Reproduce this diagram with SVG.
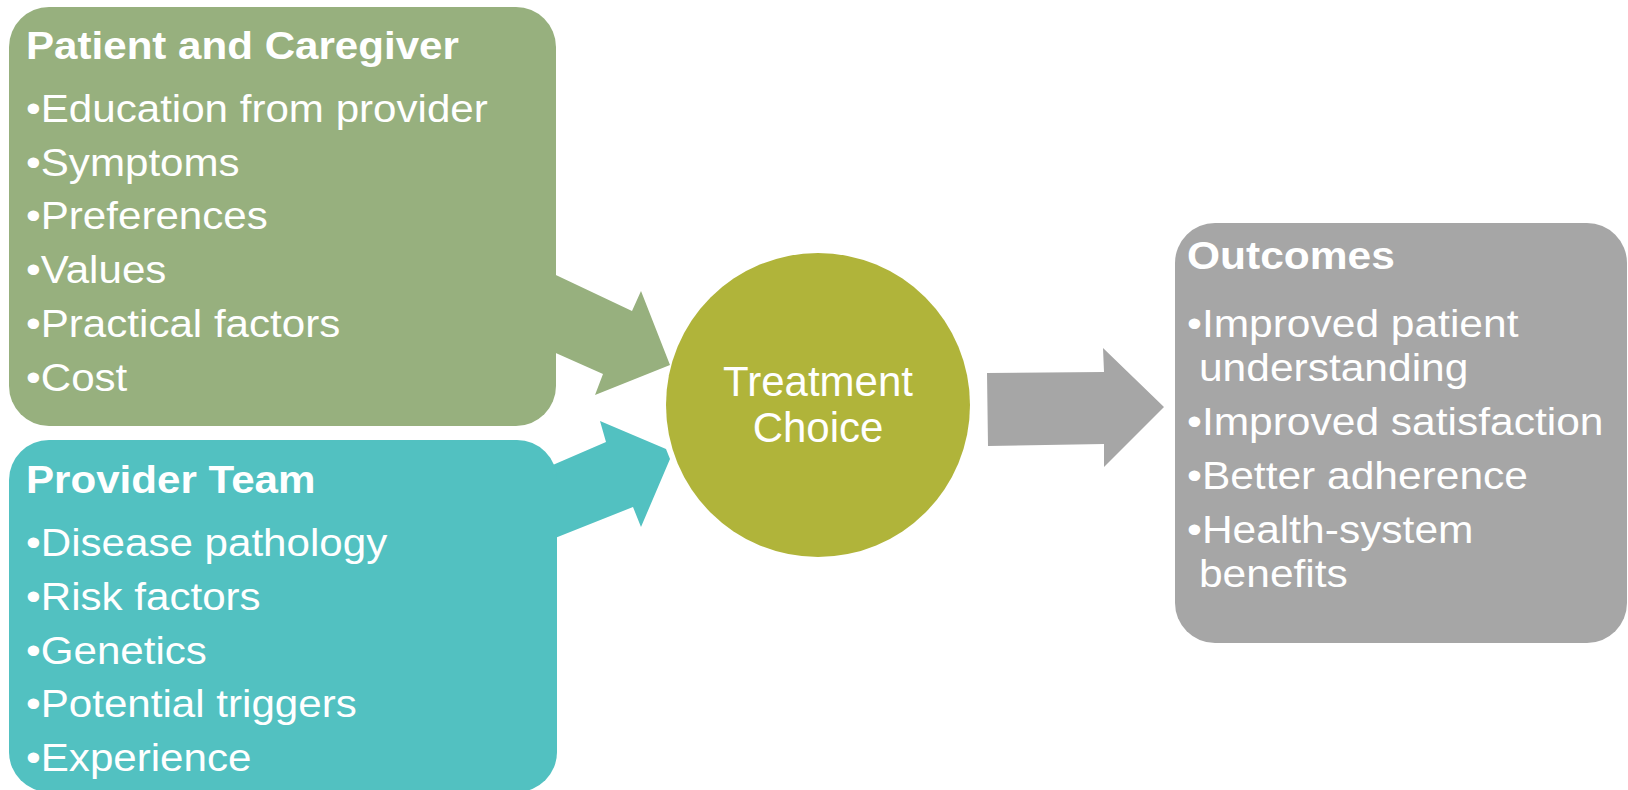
<svg xmlns="http://www.w3.org/2000/svg" width="1628" height="790" viewBox="0 0 1628 790">
<style>
.t{font-family:"Liberation Sans",Arial,sans-serif;fill:#FFFFFF;font-size:39px}
.h{font-weight:bold}
.c{font-family:"Liberation Sans",Arial,sans-serif;fill:#FFFFFF;font-size:42px;text-anchor:middle}
</style>
<rect width="1628" height="790" fill="#FFFFFF"/>
<g id="connectors">
<polygon points="540,267.5 632,311 641,291 670,365 595,395 603,374 540,346" fill="#97B07E"/>
<polygon points="540,470.5 606,442 600,421 666,449 670,459 641,527 633,507 540,544" fill="#52C1C1"/>
<polygon points="987,373 1104,372 1103,348 1164,407 1104,467 1104,444 988,446" fill="#A6A6A6"/>
</g>
<g id="patient">
<rect x="9" y="7" width="547" height="419" rx="40" ry="40" fill="#97B07E"/>
<g transform="translate(26 0) scale(1.08 1)">
<text class="t h" x="0" y="59">Patient and Caregiver</text>
<text class="t" x="0" y="122">•Education from provider</text>
<text class="t" x="0" y="176">•Symptoms</text>
<text class="t" x="0" y="229">•Preferences</text>
<text class="t" x="0" y="283">•Values</text>
<text class="t" x="0" y="337">•Practical factors</text>
<text class="t" x="0" y="391">•Cost</text>
</g>
</g>
<g id="provider">
<rect x="9" y="440" width="548" height="352" rx="40" ry="40" fill="#52C1C1"/>
<g transform="translate(26 0) scale(1.08 1)">
<text class="t h" x="0" y="493">Provider Team</text>
<text class="t" x="0" y="556">•Disease pathology</text>
<text class="t" x="0" y="610">•Risk factors</text>
<text class="t" x="0" y="664">•Genetics</text>
<text class="t" x="0" y="717">•Potential triggers</text>
<text class="t" x="0" y="771">•Experience</text>
</g>
</g>
<g id="treatment">
<circle cx="818" cy="405" r="152" fill="#B0B43A"/>
<text class="c" x="818" y="396">Treatment</text>
<text class="c" x="818" y="442">Choice</text>
</g>
<g id="outcomes">
<rect x="1175" y="223" width="452" height="420" rx="40" ry="40" fill="#A6A6A6"/>
<g transform="translate(1187 0) scale(1.09 1)">
<text class="t h" x="0" y="269">Outcomes</text>
<text class="t" x="0" y="337">•Improved patient</text>
<text class="t" x="11" y="381">understanding</text>
<text class="t" x="0" y="435">•Improved satisfaction</text>
<text class="t" x="0" y="489">•Better adherence</text>
<text class="t" x="0" y="543">•Health-system</text>
<text class="t" x="11" y="587">benefits</text>
</g>
</g>
</svg>
